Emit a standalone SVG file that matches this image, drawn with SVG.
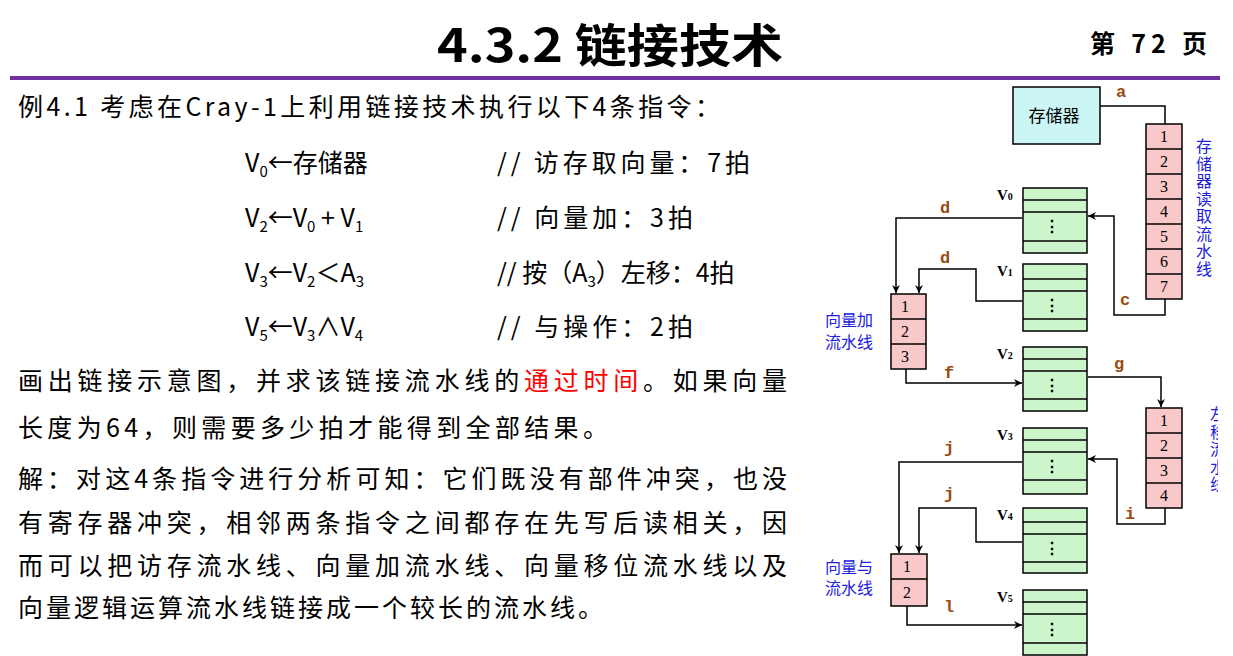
<svg xmlns="http://www.w3.org/2000/svg" width="1233" height="656" viewBox="0 0 1233 656">
<style>
.t{font-family:"Noto Sans CJK SC","Noto Sans",sans-serif;font-size:25px;fill:#000}
.s{font-size:15px}
.reg{fill:#ccf5cc;stroke:#000;stroke-width:1.5}
.pp{fill:#f9c8c8;stroke:#000;stroke-width:1.5}
.num{font-family:"Liberation Serif",serif;font-size:16px;text-anchor:middle}
.vl{font-family:"Liberation Serif",serif;font-weight:bold;font-size:15px}
.cl{font-family:"Liberation Mono",monospace;font-weight:bold;font-size:17px;fill:#9a4a10}
.bl{font-family:"Noto Sans CJK SC",sans-serif;font-size:16px;fill:#2020dd}
.bv{font-family:"Noto Sans CJK SC",sans-serif;font-size:16px;fill:#2020dd;writing-mode:vertical-rl;letter-spacing:1.5px}
.ln{fill:none;stroke:#000;stroke-width:1.5}
</style>
<defs>
<marker id="ar" viewBox="0 0 10 10" refX="10" refY="5" markerWidth="8" markerHeight="8" orient="auto" markerUnits="userSpaceOnUse"><path d="M0,0 L10,5 L0,10 L3,5 z" fill="#000"/></marker>
<clipPath id="cp"><rect x="1190" y="400" width="28" height="110"/></clipPath>
</defs>
<rect width="1233" height="656" fill="#fff"/>
<text x="437" y="62" textLength="346" lengthAdjust="spacingAndGlyphs" font-family="Noto Sans CJK SC,sans-serif" font-weight="bold" font-size="46">4.3.2 链接技术</text>
<text x="1090" y="53" textLength="117" font-family="Noto Sans CJK SC,sans-serif" font-weight="bold" font-size="25">第 72 页</text>
<rect x="10" y="76" width="1210" height="4" fill="#7030a0"/>
<g class="t">
<text x="18" y="116" textLength="702">例4.1 考虑在Cray-1上利用链接技术执行以下4条指令：</text>
<text x="245" y="172">V<tspan class="s" dy="5">0</tspan><tspan dy="-5">←存储器</tspan></text>
<text x="245" y="227">V<tspan class="s" dy="5">2</tspan><tspan dy="-5">←V</tspan><tspan class="s" dy="5">0</tspan><tspan dy="-5"> + V</tspan><tspan class="s" dy="5">1</tspan></text>
<text x="245" y="282">V<tspan class="s" dy="5">3</tspan><tspan dy="-5">←V</tspan><tspan class="s" dy="5">2</tspan><tspan dy="-5">＜A</tspan><tspan class="s" dy="5">3</tspan></text>
<text x="245" y="336">V<tspan class="s" dy="5">5</tspan><tspan dy="-5">←V</tspan><tspan class="s" dy="5">3</tspan><tspan dy="-5">∧V</tspan><tspan class="s" dy="5">4</tspan></text>
<text x="497" y="172" textLength="253">// 访存取向量：7拍</text>
<text x="497" y="227" textLength="196">// 向量加：3拍</text>
<text x="497" y="282">// 按（A<tspan class="s" dy="5">3</tspan><tspan dy="-5">）左移：4拍</tspan></text>
<text x="497" y="336" textLength="196">// 与操作：2拍</text>
<text x="18" y="390" textLength="769">画出链接示意图，并求该链接流水线的<tspan fill="#ff0000">通过时间</tspan>。如果向量</text>
<text x="18" y="437" textLength="590">长度为64，则需要多少拍才能得到全部结果。</text>
<text x="18" y="488" textLength="769">解：对这4条指令进行分析可知：它们既没有部件冲突，也没</text>
<text x="18" y="532" textLength="769">有寄存器冲突，相邻两条指令之间都存在先写后读相关，因</text>
<text x="18" y="575" textLength="769">而可以把访存流水线、向量加流水线、向量移位流水线以及</text>
<text x="18" y="617" textLength="585">向量逻辑运算流水线链接成一个较长的流水线。</text>
</g>
<g id="mem"><rect x="1013" y="87" width="87" height="57" fill="#ccf5f5" stroke="#000" stroke-width="1.5"/><text x="1054" y="122" text-anchor="middle" font-family="Noto Sans CJK SC,sans-serif" font-size="17">存储器</text></g>
<g id="p_mem">
<rect class="pp" x="1146" y="124" width="36" height="175"/>
<path class="ln" d="M1146,149H1182M1146,174H1182M1146,199H1182M1146,224H1182M1146,249H1182M1146,274H1182"/>
<g class="num"><text x="1164" y="142">1</text><text x="1164" y="167">2</text><text x="1164" y="192">3</text><text x="1164" y="217">4</text><text x="1164" y="242">5</text><text x="1164" y="267">6</text><text x="1164" y="292">7</text></g>
<text class="bv" x="1204" y="138">存储器读取流水线</text>
</g>
<g id="p_add">
<rect class="pp" x="891" y="294" width="35" height="75"/>
<path class="ln" d="M891,319H926M891,344H926"/>
<g class="num"><text x="905" y="312">1</text><text x="905" y="337">2</text><text x="905" y="362">3</text></g>
<text class="bl" x="825" y="326">向量加</text><text class="bl" x="825" y="348">流水线</text>
</g>
<g id="p_shift">
<rect class="pp" x="1146" y="408" width="36" height="100"/>
<path class="ln" d="M1146,433H1182M1146,458H1182M1146,483H1182"/>
<g class="num"><text x="1164" y="426">1</text><text x="1164" y="451">2</text><text x="1164" y="476">3</text><text x="1164" y="501">4</text></g>
<text class="bv" clip-path="url(#cp)" x="1218" y="406">左移流水线</text>
</g>
<g id="p_and">
<rect class="pp" x="891" y="554" width="36" height="52"/>
<path class="ln" d="M891,579H927"/>
<g class="num"><text x="907" y="572">1</text><text x="907" y="598">2</text></g>
<text class="bl" x="825" y="573">向量与</text><text class="bl" x="825" y="594">流水线</text>
</g>
<g id="V0"><rect class="reg" x="1023" y="188" width="64" height="65"/><path class="ln" d="M1023,200H1087M1023,212H1087M1023,241H1087"/><text x="1052" y="232" text-anchor="middle" font-size="16" font-weight="bold" font-family="Liberation Sans">⋮</text><text class="vl" x="997" y="200">V<tspan font-size="10">0</tspan></text></g>
<g id="V1"><rect class="reg" x="1023" y="264" width="64" height="67"/><path class="ln" d="M1023,279H1087M1023,291H1087M1023,319H1087"/><text x="1052" y="311" text-anchor="middle" font-size="16" font-weight="bold" font-family="Liberation Sans">⋮</text><text class="vl" x="997" y="276">V<tspan font-size="10">1</tspan></text></g>
<g id="V2"><rect class="reg" x="1023" y="347" width="64" height="64"/><path class="ln" d="M1023,359H1087M1023,371H1087M1023,399H1087"/><text x="1052" y="391" text-anchor="middle" font-size="16" font-weight="bold" font-family="Liberation Sans">⋮</text><text class="vl" x="997" y="359">V<tspan font-size="10">2</tspan></text></g>
<g id="V3"><rect class="reg" x="1023" y="428" width="64" height="66"/><path class="ln" d="M1023,440H1087M1023,452H1087M1023,480H1087"/><text x="1052" y="472" text-anchor="middle" font-size="16" font-weight="bold" font-family="Liberation Sans">⋮</text><text class="vl" x="997" y="440">V<tspan font-size="10">3</tspan></text></g>
<g id="V4"><rect class="reg" x="1023" y="508" width="64" height="65"/><path class="ln" d="M1023,522H1087M1023,534H1087M1023,562H1087"/><text x="1052" y="554" text-anchor="middle" font-size="16" font-weight="bold" font-family="Liberation Sans">⋮</text><text class="vl" x="997" y="520">V<tspan font-size="10">4</tspan></text></g>
<g id="V5"><rect class="reg" x="1023" y="590" width="64" height="65"/><path class="ln" d="M1023,602H1087M1023,614H1087M1023,643H1087"/><text x="1052" y="635" text-anchor="middle" font-size="16" font-weight="bold" font-family="Liberation Sans">⋮</text><text class="vl" x="997" y="602">V<tspan font-size="10">5</tspan></text></g>
<g id="connectors">
<path class="ln" d="M1100,106H1165V124"/>
<path class="ln" marker-end="url(#ar)" d="M1165,299V315H1114V216H1088"/>
<path class="ln" marker-end="url(#ar)" d="M1022,218H896V293"/>
<path class="ln" marker-end="url(#ar)" d="M1022,301H976V269H919V293"/>
<path class="ln" marker-end="url(#ar)" d="M906,369V383H1022"/>
<path class="ln" marker-end="url(#ar)" d="M1088,377H1161V407"/>
<path class="ln" marker-end="url(#ar)" d="M1165,508V524H1117V459H1088"/>
<path class="ln" marker-end="url(#ar)" d="M1022,462H899V553"/>
<path class="ln" marker-end="url(#ar)" d="M1022,542H976V508H919V553"/>
<path class="ln" marker-end="url(#ar)" d="M907,606V625H1022"/>
<g class="cl"><text x="1116" y="97">a</text><text x="1120" y="305">c</text><text x="940" y="213">d</text><text x="940" y="263">d</text><text x="944" y="378">f</text><text x="1114" y="369">g</text><text x="1125" y="519">i</text><text x="944" y="453">j</text><text x="944" y="499">j</text><text x="944" y="612">l</text></g>
</g>
</svg>
